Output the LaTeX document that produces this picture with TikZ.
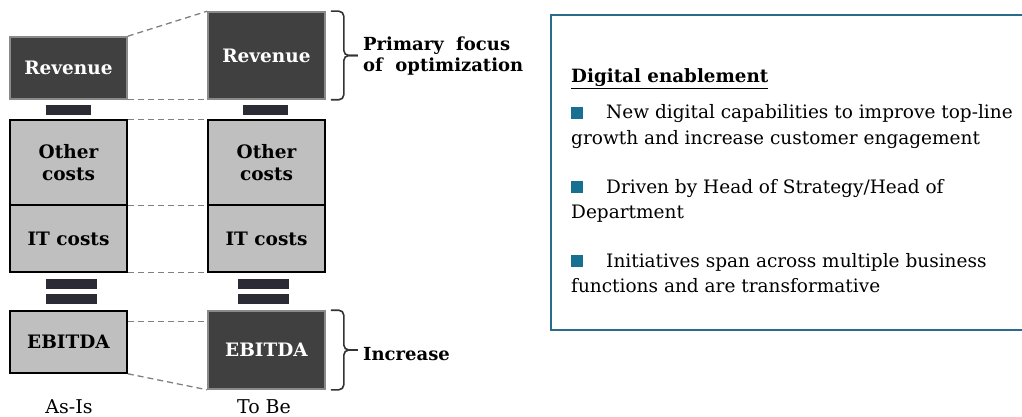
\documentclass[tikz,border=0pt]{standalone}
\usepackage{fontspec}
\setmainfont{DejaVu Serif}
\usetikzlibrary{calc}
\definecolor{darkbox}{HTML}{404040}
\definecolor{greyborder}{HTML}{8A8A8A}
\definecolor{lightbox}{HTML}{BFBFBF}
\definecolor{barcol}{HTML}{2B2B36}
\definecolor{panelblue}{HTML}{2A6A8A}
\definecolor{bulletteal}{HTML}{17708F}
\definecolor{dashgrey}{HTML}{808080}
\newcommand{\bulletsq}{\textcolor{bulletteal}{\rule[0pt]{12pt}{12pt}}\hspace{23pt}}
\begin{document}
\begin{tikzpicture}[x=1pt,y=-1pt,
  boxbase/.style={minimum width=117pt,inner sep=0pt,line width=1.6pt,align=center,font=\fontsize{18.5}{22}\selectfont\bfseries},
  darkcell/.style={boxbase,fill=darkbox,draw=greyborder,text=white},
  lightcell/.style={boxbase,fill=lightbox,draw=black,text=black},
  bar/.style={fill=barcol,inner sep=0pt,minimum width=#1,minimum height=10pt},
  link/.style={draw=dashgrey,line width=1.3pt,dash pattern=on 6pt off 4pt},
  bracestyle/.style={draw=black!80,line width=1.6pt,rounded corners=5pt},
  sidelabel/.style={font=\fontsize{18}{21}\selectfont\bfseries,anchor=base west,inner sep=0pt},
  colLabel/.style={font=\fontsize{19}{21}\selectfont,anchor=base,inner sep=0pt},
  bodytext/.style={font=\fontsize{18.5}{25}\selectfont,anchor=base west,inner sep=0pt},
]
\useasboundingbox (0,0) rectangle (1022,417);
% As-Is column
\node[darkcell,minimum height=62pt] (ar) at (68.5,68) {Revenue};
\node[bar=45pt] (am) at (68.5,110.5) {};
\node[lightcell,minimum height=85pt] (ao) at (68.5,162.5) {Other\\costs};
\node[lightcell,minimum height=67pt] (ai) at (68.5,238.5) {IT costs};
\node[bar=51pt] (ae1) at (71.5,283.5) {};
\node[bar=51pt] (ae2) at (71.5,298.5) {};
\node[lightcell,minimum height=62pt] (ae) at (68.5,342) {EBITDA};
% To Be column
\node[darkcell,minimum height=87pt] (tr) at (266.5,55.5) {Revenue};
\node[bar=45pt] (tm) at (265.5,110.5) {};
\node[lightcell,minimum height=85pt] (to) at (266.5,162.5) {Other\\costs};
\node[lightcell,minimum height=67pt] (ti) at (266.5,238.5) {IT costs};
\node[bar=51pt] (te1) at (263.5,283.5) {};
\node[bar=51pt] (te2) at (263.5,298.5) {};
\node[darkcell,minimum height=78pt] (te) at (266.5,350) {EBITDA};
% dashed links
\draw[link] (ar.north east) -- (tr.north west);
\draw[link] (ar.south east) -- (tr.south west);
\draw[link] (ao.north east) -- (to.north west);
\draw[link] (ao.south east) -- (to.south west);
\draw[link] (ai.south east) -- (ti.south west);
\draw[link] ([yshift=-11pt]ae.north east) -- ([yshift=-11pt]te.north west);
\draw[link] (ae.south east) -- (te.south west);
% column labels
\node[colLabel] (lasis) at (69,413) {As-Is};
\node[colLabel] (ltobe) at (264,413) {To Be};
% braces
\draw[bracestyle] ([xshift=5pt]tr.north east) -- ++(13,0) -- ($(tr.east)+(18,0)$) -- ($(tr.east)+(32,0)$);
\draw[bracestyle] ([xshift=5pt]tr.south east) -- ++(13,0) -- ($(tr.east)+(18,0)$) -- ($(tr.east)+(32,0)$);
\draw[bracestyle] ([xshift=5pt]te.north east) -- ++(13,0) -- ($(te.east)+(18,0)$) -- ($(te.east)+(32,0)$);
\draw[bracestyle] ([xshift=5pt]te.south east) -- ++(13,0) -- ($(te.east)+(18,0)$) -- ($(te.east)+(32,0)$);
\node[sidelabel] (focus) at (363,51) {\begin{tabular}[t]{@{}l@{}}Primary\ \ focus\\of\ \ optimization\end{tabular}};
\node[sidelabel] (incr) at (363,360) {Increase};
% right panel
\node[draw=panelblue,line width=2pt,anchor=north west,minimum width=480pt,minimum height=315pt,inner sep=0pt] (panel) at (550,14) {};
\node[bodytext,font=\fontsize{18.3}{25}\selectfont\bfseries] (head) at (571,83) {\underline{Digital enablement}};
\node[bodytext] (b1) at (571,119) {\begin{tabular}[t]{@{}l@{}}\bulletsq New digital capabilities to improve top-line\\growth and increase customer engagement\end{tabular}};
\node[bodytext] (b2) at (571,193) {\begin{tabular}[t]{@{}l@{}}\bulletsq Driven by Head of Strategy/Head of\\Department\end{tabular}};
\node[bodytext] (b3) at (571,267) {\begin{tabular}[t]{@{}l@{}}\bulletsq Initiatives span across multiple business\\functions and are transformative\end{tabular}};
\end{tikzpicture}
\end{document}
